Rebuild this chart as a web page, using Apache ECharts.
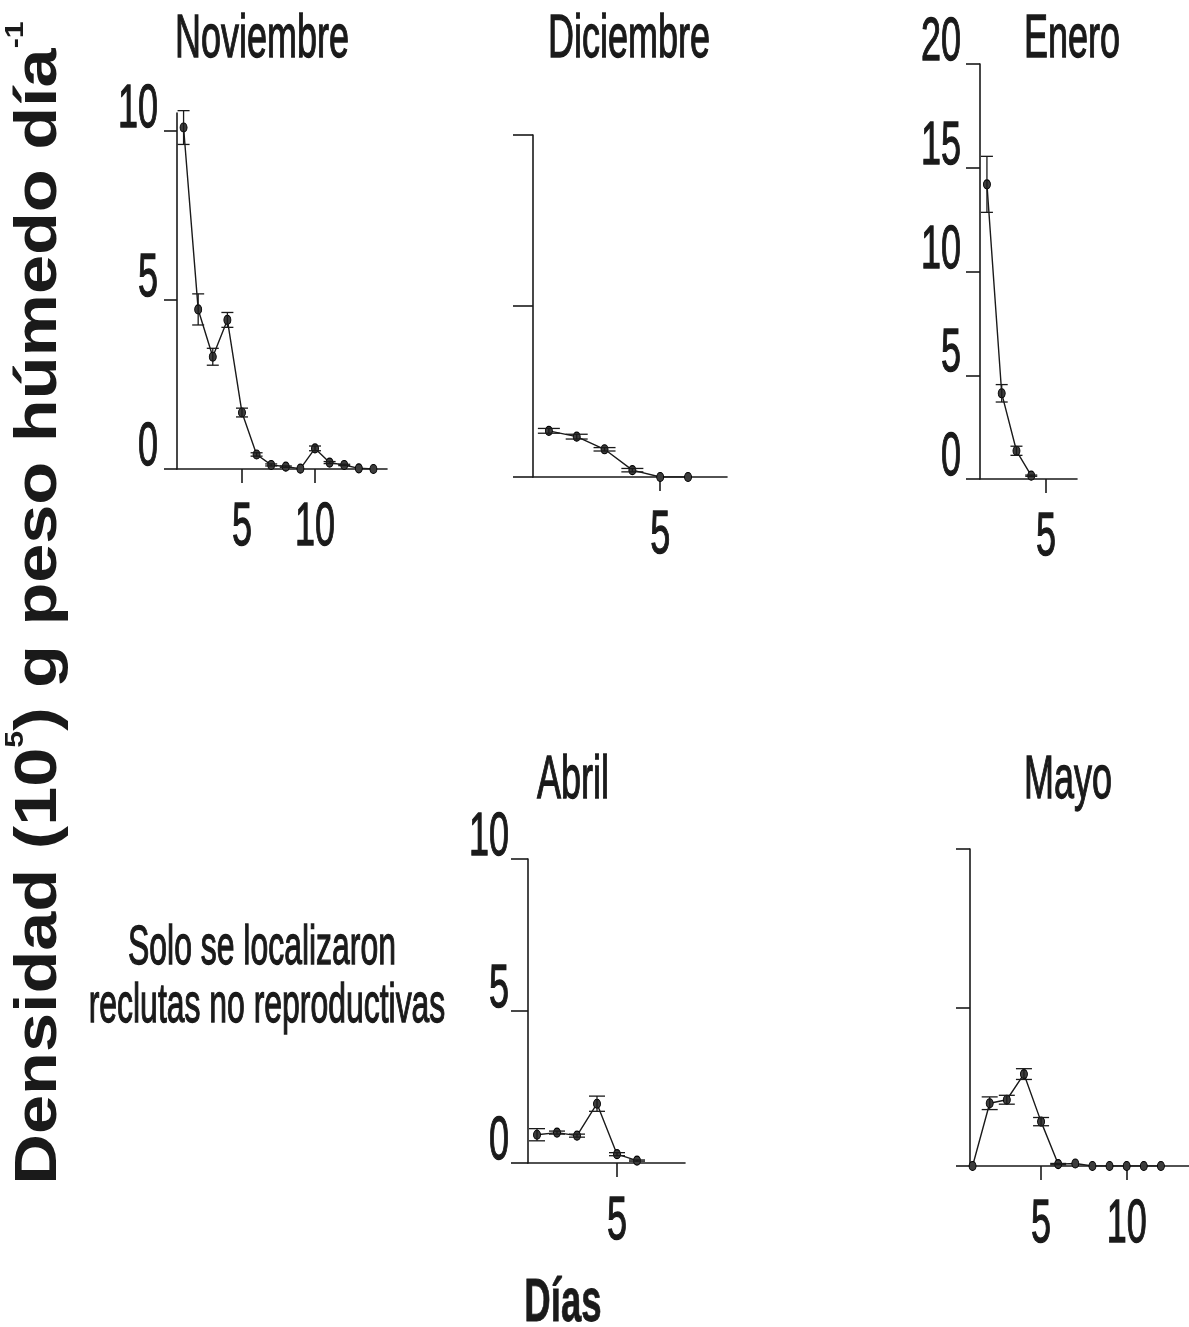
<!DOCTYPE html>
<html>
<head>
<meta charset="utf-8">
<script src="https://cdn.jsdelivr.net/npm/echarts@6/dist/echarts.min.js"></script>
<style>html,body{margin:0;padding:0;background:#fff;}#c{width:1189px;height:1327px;}</style>
</head>
<body>
<div id="c"></div>
<script>
// ---- data ----
const novDays = [1,2,3,4,5,6,7,8,9,10,11,12,13,14];
const novVals = [10.1,4.72,3.32,4.41,1.67,0.43,0.12,0.07,0.01,0.61,0.19,0.12,0.02,0.0];
const novErr  = [0.5,0.46,0.25,0.22,0.13,0.05,0.03,0.02,0,0.07,0.03,0.02,0,0];

const dicDays = [1,2,3,4,5,6];
const dicVals = [1.35,1.18,0.81,0.2,0,0];
const dicErr  = [0.07,0.07,0.05,0.05,0,0];

const eneDays = [1,2,3,4];
const eneVals = [14.2,4.13,1.36,0.16];
const eneErr  = [1.35,0.42,0.22,0.03];

const abrDays = [1,2,3,4,5,6];
const abrVals = [0.93,1.0,0.9,1.95,0.29,0.08];
const abrErr  = [0.2,0.05,0.05,0.25,0.05,0.02];

const mayDays = [1,2,3,4,5,6,7,8,9,10,11,12];
const mayVals = [0,1.98,2.09,2.9,1.4,0.06,0.08,0,0,0,0,0];
const mayErr  = [0,0.2,0.14,0.17,0.13,0.02,0,0,0,0,0,0];

const panelTitles = ['Noviembre','Diciembre','Enero','Abril','Mayo'];
const novXTicks = [5,10], novYTicks = [0,5,10];
const dicXTicks = [5],    dicYTicks = [0,5,10];
const eneXTicks = [5],    eneYTicks = [0,5,10,15,20];
const abrXTicks = [5],    abrYTicks = [0,5,10];
const mayXTicks = [5,10], mayYTicks = [0,5,10];
const yTitle = ['Densidad (10','5',') g peso húmedo día','-1'];
const xTitle = 'Días';
const noteLines = ['Solo se localizaron','reclutas no reproductivas'];

// ---- layout / style ----
const panels = [
  {days:novDays, vals:novVals, err:novErr, xt:novXTicks, yt:novYTicks, yLab:true,
   grid:{left:177, top:113, width:210, height:356}, x:[0.55,14.93], y:[0,10.53], cap:6, ytl:13, title:[262,71]},
  {days:dicDays, vals:dicVals, err:dicErr, xt:dicXTicks, yt:dicYTicks, yLab:false,
   grid:{left:533, top:135, width:194, height:342}, x:[0.43,7.4], y:[0,10], cap:11, ytl:20, title:[629,71]},
  {days:eneDays, vals:eneVals, err:eneErr, xt:eneXTicks, yt:eneYTicks, yLab:true,
   grid:{left:980, top:64, width:97, height:415}, x:[0.53,7.1], y:[0,20], cap:6, ytl:14, title:[1072,71]},
  {days:abrDays, vals:abrVals, err:abrErr, xt:abrXTicks, yt:abrYTicks, yLab:true,
   grid:{left:528, top:859, width:157, height:304}, x:[0.55,8.4], y:[0,10], cap:8, ytl:17, title:[573,812]},
  {days:mayDays, vals:mayVals, err:mayErr, xt:mayXTicks, yt:mayYTicks, yLab:false,
   grid:{left:970, top:849, width:225, height:317}, x:[0.85,13.64], y:[0,10], cap:8, ytl:14, title:[1068,812]}
];

const INK = '#1a1a1a';
const FONT = "'Liberation Sans', Arial, sans-serif";
const NARROW = 0.58;

const grids = [], xAxes = [], yAxes = [], series = [];
panels.forEach((p, i) => {
  grids.push(Object.assign({containLabel:false}, p.grid));
  xAxes.push({
    gridIndex:i, type:'value', min:p.x[0], max:p.x[1],
    axisLine:{show:true, onZero:false, lineStyle:{color:INK, width:1.6}},
    axisTick:{show:true, customValues:p.xt, length:14, lineStyle:{color:INK, width:1.6}},
    axisLabel:{show:false}, splitLine:{show:false}
  });
  yAxes.push({
    gridIndex:i, type:'value', min:p.y[0], max:p.y[1],
    axisLine:{show:true, onZero:false, lineStyle:{color:INK, width:1.6}},
    axisTick:{show:true, customValues:p.yt, length:p.ytl, lineStyle:{color:INK, width:1.6}},
    axisLabel:{show:false}, splitLine:{show:false}
  });
  series.push({
    type:'line', xAxisIndex:i, yAxisIndex:i, animation:false, z:2,
    data:p.days.map((d,k)=>[d, p.vals[k]]),
    symbol:'circle', symbolSize:[7,9], showSymbol:true,
    itemStyle:{color:'#3c3c3c', borderColor:'#000', borderWidth:1},
    lineStyle:{color:INK, width:1.4}
  });
  const cap = p.cap;
  series.push({
    type:'custom', xAxisIndex:i, yAxisIndex:i, animation:false, z:3,
    data:p.days.map((d,k)=>[d, p.vals[k], p.err[k]]),
    renderItem:function(params, api){
      const x = api.value(0), y = api.value(1), e = api.value(2);
      if (!(e > 0)) return null;
      const t = api.coord([x, y + e]), b = api.coord([x, y - e]);
      const st = {stroke:INK, lineWidth:1.3};
      return {type:'group', children:[
        {type:'line', shape:{x1:t[0], y1:t[1], x2:b[0], y2:b[1]}, style:st},
        {type:'line', shape:{x1:t[0]-cap, y1:t[1], x2:t[0]+cap, y2:t[1]}, style:st},
        {type:'line', shape:{x1:b[0]-cap, y1:b[1], x2:b[0]+cap, y2:b[1]}, style:st}
      ]};
    }
  });
});

const chart = echarts.init(document.getElementById('c'), null, {renderer:'canvas', width:1189, height:1327});
chart.setOption({
  backgroundColor:'#fff', animation:false,
  grid:grids, xAxis:xAxes, yAxis:yAxes, series:series
});

// ---- text (narrow, tall lettering as in the figure) ----
function txt(text, x, y, size, align, valign, opt) {
  opt = opt || {};
  return {
    type:'text', x:x, y:y, scaleX:opt.sx || NARROW, rotation:opt.rot || 0, silent:true, z:10,
    style:{text:text, fontSize:size, fontFamily:FONT, fontWeight:opt.bold ? 'bold' : 'normal',
      fill:INK, stroke:INK, lineWidth:opt.lw == null ? 1.3 : opt.lw, textAlign:align, textVerticalAlign:valign}
  };
}
const gfx = [];
panels.forEach((p, i) => {
  gfx.push(txt(panelTitles[i], p.title[0], p.title[1], 62, 'center', 'bottom', {}));
  const y0 = chart.convertToPixel({yAxisIndex:i}, 0);
  p.xt.forEach(v => {
    const px = chart.convertToPixel({xAxisIndex:i}, v);
    gfx.push(txt(String(v), px, y0 + 59, 62, 'center', 'middle'));
  });
  if (p.yLab) {
    p.yt.forEach(v => {
      const py = chart.convertToPixel({yAxisIndex:i}, v);
      gfx.push(txt(String(v), p.grid.left - 19, py - 21, 62, 'right', 'middle'));
    });
  }
});
gfx.push(txt(noteLines[0], 262, 977, 56, 'center', 'bottom', {sx:0.57}));
gfx.push(txt(noteLines[1], 267, 1035, 56, 'center', 'bottom', {sx:0.57}));
gfx.push(txt(xTitle, 563, 1335, 62, 'center', 'bottom', {bold:true, sx:0.59, lw:0.8}));
gfx.push({
  type:'text', x:36, y:603, rotation:Math.PI/2, scaleX:1.17, silent:true, z:10,
  style:{
    text:'{a|' + yTitle[0] + '}{s|' + yTitle[1] + '}{a|' + yTitle[2] + '}{s|' + yTitle[3] + '}',
    textAlign:'center', textVerticalAlign:'middle',
    rich:{
      a:{fontSize:60, fontFamily:FONT, fontWeight:'bold', fill:INK, color:INK, lineHeight:66, verticalAlign:'bottom'},
      s:{fontSize:26, fontFamily:FONT, fontWeight:'bold', fill:INK, color:INK, lineHeight:66, verticalAlign:'top'}
    }
  }
});
chart.setOption({graphic:{elements:gfx}});
</script>
</body>
</html>
